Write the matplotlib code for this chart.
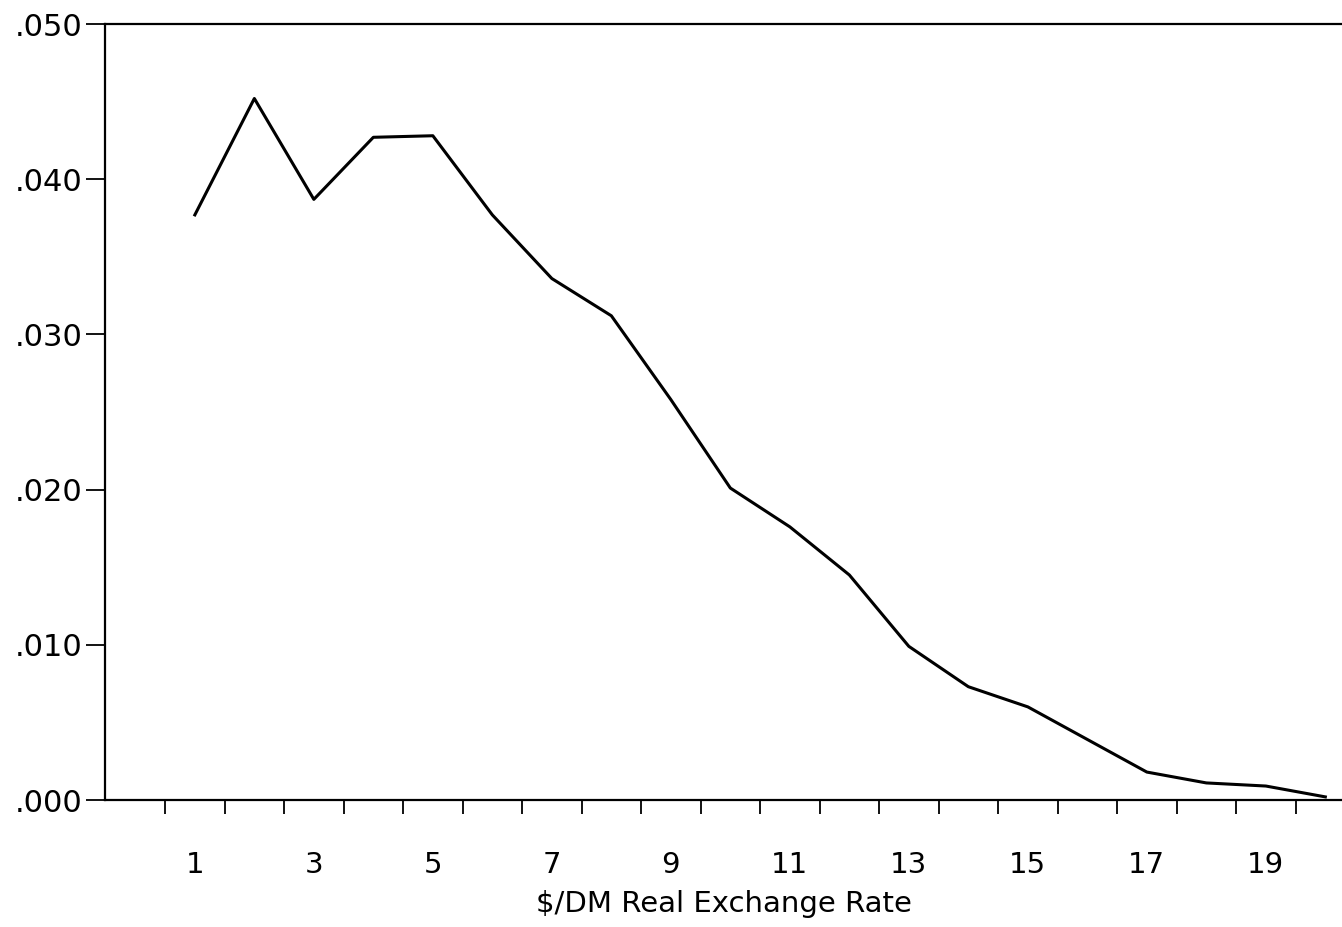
import numpy as np
import matplotlib
matplotlib.use('Agg')
import matplotlib.pyplot as plt

# values
periods = np.arange(1, 21)
density = [0.0377, 0.0452, 0.0387, 0.0427, 0.0428, 0.0377, 0.0336, 0.0312,
           0.0258, 0.0201, 0.0176, 0.0145, 0.0099, 0.0073, 0.0060, 0.0039,
           0.0018, 0.0011, 0.0009, 0.0002]
xlabels = [1, 3, 5, 7, 9, 11, 13, 15, 17, 19]
ylabels = ['.000', '.010', '.020', '.030', '.040', '.050']

fig = plt.figure(figsize=(13.42, 9.27), dpi=100)
ax = fig.add_axes([105/1342, 1-800/927, 1237/1342, 776/927])

ax.plot(periods, density, color='black', lw=2.2)

ax.set_xlim(-0.51, 20.28)
ax.set_ylim(0, 0.05)

ax.set_yticks(np.arange(0, 0.051, 0.01))
ax.set_yticklabels(ylabels, fontsize=22)
ax.set_xticks(xlabels)
ax.set_xticklabels(xlabels, fontsize=21)
ax.set_xticks(np.arange(0.5, 20, 1), minor=True)
ax.tick_params(axis='x', which='major', length=0, pad=37)
ax.tick_params(axis='x', which='minor', length=10, width=1.3, direction='out')
ax.tick_params(axis='y', length=14, width=1.3, direction='out', pad=2)

ax.spines['right'].set_visible(False)
for s in ['left', 'top', 'bottom']:
    ax.spines[s].set_linewidth(1.6)

ax.set_xlabel('$/DM Real Exchange Rate', fontsize=21, labelpad=8)

fig.savefig('out.png', dpi=100)
